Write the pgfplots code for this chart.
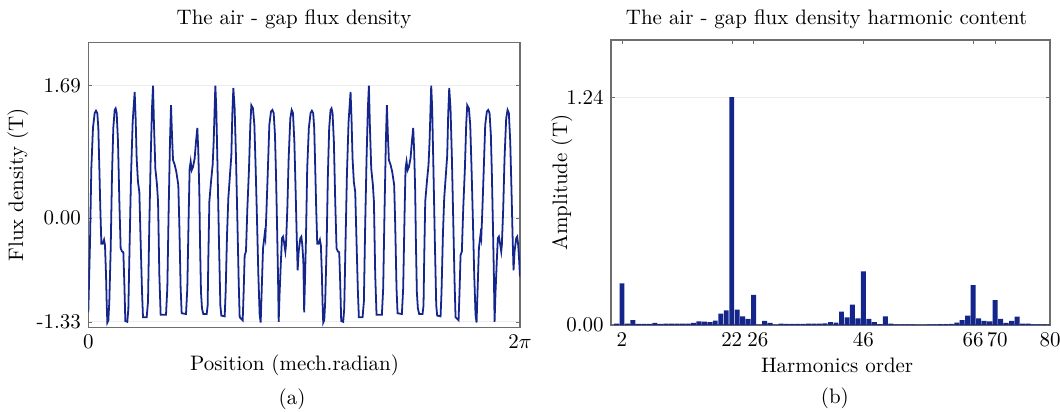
\documentclass[border=0pt]{standalone}
\usepackage{pgfplots}
\pgfplotsset{compat=1.18}
\usepackage{pgfplotstable}
\definecolor{fluxblue}{HTML}{14258C}
\definecolor{framegray}{HTML}{6E6E6E}

\pgfplotstableread{
x y
0.000 -1.21
0.025 -0.31
0.044 0.63
0.068 1.15
0.093 1.34
0.112 1.37
0.131 1.34
0.146 1.15
0.161 0.63
0.175 0.12
0.190 -0.33
0.209 -0.33
0.229 -0.28
0.243 -0.35
0.258 -0.73
0.267 -1.07
0.277 -1.34
0.292 -1.31
0.306 -1.07
0.326 -0.39
0.345 0.55
0.364 1.15
0.384 1.38
0.398 1.40
0.413 1.34
0.432 0.98
0.452 0.21
0.471 -0.39
0.491 -0.43
0.510 -0.44
0.524 -0.82
0.539 -1.32
0.568 -1.33
0.583 -1.16
0.602 -0.31
0.622 0.55
0.646 1.23
0.675 1.61
0.689 1.27
0.704 0.76
0.723 0.46
0.743 0.33
0.762 -0.31
0.782 -0.95
0.796 -1.27
0.850 -1.27
0.869 -1.07
0.888 -0.09
0.908 0.76
0.927 1.40
0.942 1.69
0.956 1.19
0.976 0.63
1.000 0.42
1.015 0.21
1.034 -0.73
1.053 -1.24
1.131 -1.24
1.150 -0.90
1.170 0.12
1.189 0.98
1.204 1.44
1.218 1.06
1.233 0.74
1.257 0.68
1.281 0.59
1.310 0.42
1.325 -0.09
1.344 -0.90
1.359 -1.22
1.422 -1.23
1.441 -0.90
1.461 0.04
1.475 0.63
1.490 0.72
1.505 0.61
1.524 0.65
1.548 0.76
1.568 0.98
1.587 1.15
1.601 0.85
1.616 0.33
1.626 -0.31
1.640 -0.95
1.655 -1.16
1.674 -1.23
1.723 -1.23
1.737 -1.12
1.747 -0.52
1.762 0.21
1.786 0.46
1.810 0.68
1.825 0.98
1.839 1.40
1.849 1.69
1.863 1.40
1.883 0.55
1.902 -0.31
1.922 -1.12
1.936 -1.25
1.985 -1.26
1.999 -0.95
2.019 -0.22
2.038 0.25
2.062 0.55
2.082 0.80
2.096 1.32
2.111 1.66
2.130 1.40
2.150 0.76
2.169 -0.01
2.189 -0.82
2.203 -1.27
2.247 -1.31
2.261 -0.95
2.276 -0.48
2.295 -0.43
2.315 0.12
2.339 0.63
2.358 1.19
2.373 1.44
2.397 1.40
2.417 1.19
2.436 0.63
2.455 -0.01
2.475 -0.73
2.494 -1.24
2.509 -1.34
2.523 -0.95
2.543 -0.39
2.567 -0.21
2.577 -0.26
2.591 0.04
2.611 0.55
2.635 1.19
2.659 1.36
2.679 1.38
2.698 1.34
2.717 1.06
2.732 0.55
2.747 -0.09
2.761 -0.73
2.771 -1.33
2.785 -0.95
2.805 -0.52
2.819 -0.26
2.834 -0.24
2.848 -0.31
2.868 -0.43
2.877 -0.35
2.897 0.12
2.916 0.76
2.940 1.27
2.960 1.38
2.979 1.34
2.999 0.98
3.018 0.33
3.033 -0.22
3.047 -0.67
3.062 -0.43
3.086 -0.26
3.101 -0.24
3.115 -0.35
3.130 -0.56
3.142 -1.21
3.167 -0.31
3.186 0.63
3.210 1.15
3.235 1.34
3.254 1.37
3.273 1.34
3.288 1.15
3.303 0.63
3.317 0.12
3.332 -0.33
3.351 -0.33
3.371 -0.28
3.385 -0.35
3.400 -0.73
3.409 -1.07
3.419 -1.34
3.434 -1.31
3.448 -1.07
3.468 -0.39
3.487 0.55
3.506 1.15
3.526 1.38
3.540 1.40
3.555 1.34
3.574 0.98
3.594 0.21
3.613 -0.39
3.633 -0.43
3.652 -0.44
3.666 -0.82
3.681 -1.32
3.710 -1.33
3.725 -1.16
3.744 -0.31
3.764 0.55
3.788 1.23
3.817 1.61
3.831 1.27
3.846 0.76
3.865 0.46
3.885 0.33
3.904 -0.31
3.924 -0.95
3.938 -1.27
3.992 -1.27
4.011 -1.07
4.030 -0.09
4.050 0.76
4.069 1.40
4.084 1.69
4.098 1.19
4.118 0.63
4.142 0.42
4.157 0.21
4.176 -0.73
4.195 -1.24
4.273 -1.24
4.292 -0.90
4.312 0.12
4.331 0.98
4.346 1.44
4.360 1.06
4.375 0.74
4.399 0.68
4.423 0.59
4.452 0.42
4.467 -0.09
4.486 -0.90
4.501 -1.22
4.564 -1.23
4.583 -0.90
4.603 0.04
4.617 0.63
4.632 0.72
4.647 0.61
4.666 0.65
4.690 0.76
4.710 0.98
4.729 1.15
4.743 0.85
4.758 0.33
4.768 -0.31
4.782 -0.95
4.797 -1.16
4.816 -1.23
4.865 -1.23
4.879 -1.12
4.889 -0.52
4.904 0.21
4.928 0.46
4.952 0.68
4.967 0.98
4.981 1.40
4.991 1.69
5.005 1.40
5.025 0.55
5.044 -0.31
5.064 -1.12
5.078 -1.25
5.127 -1.26
5.141 -0.95
5.161 -0.22
5.180 0.25
5.204 0.55
5.224 0.80
5.238 1.32
5.253 1.66
5.272 1.40
5.292 0.76
5.311 -0.01
5.331 -0.82
5.345 -1.27
5.389 -1.31
5.403 -0.95
5.418 -0.48
5.437 -0.43
5.457 0.12
5.481 0.63
5.500 1.19
5.515 1.44
5.539 1.40
5.559 1.19
5.578 0.63
5.597 -0.01
5.617 -0.73
5.636 -1.24
5.651 -1.34
5.665 -0.95
5.685 -0.39
5.709 -0.21
5.719 -0.26
5.733 0.04
5.753 0.55
5.777 1.19
5.801 1.36
5.821 1.38
5.840 1.34
5.859 1.06
5.874 0.55
5.889 -0.09
5.903 -0.73
5.913 -1.33
5.927 -0.95
5.947 -0.52
5.961 -0.26
5.976 -0.24
5.990 -0.31
6.010 -0.43
6.019 -0.35
6.039 0.12
6.058 0.76
6.082 1.27
6.102 1.38
6.121 1.34
6.141 0.98
6.160 0.33
6.175 -0.22
6.189 -0.67
6.204 -0.43
6.228 -0.26
6.243 -0.24
6.257 -0.35
6.272 -0.56
6.283 -0.75
}\fluxdata

\pgfplotstableread{
n a
1 0.007
2 0.226
3 0.007
4 0.026
5 0.006
6 0.006
7 0.006
8 0.012
9 0.006
10 0.007
11 0.008
12 0.008
13 0.008
14 0.008
15 0.012
16 0.020
17 0.018
18 0.015
19 0.024
20 0.062
21 0.080
22 1.240
23 0.084
24 0.047
25 0.033
26 0.164
27 0.002
28 0.022
29 0.011
30 0.002
31 0.007
32 0.006
33 0.006
34 0.006
35 0.006
36 0.007
37 0.007
38 0.007
39 0.009
40 0.016
41 0.013
42 0.073
43 0.042
44 0.111
45 0.036
46 0.292
47 0.033
48 0.015
49 0.005
50 0.047
51 0.007
52 0.004
53 0.004
54 0.004
55 0.004
56 0.002
57 0.002
58 0.004
59 0.004
60 0.005
61 0.005
62 0.006
63 0.013
64 0.027
65 0.051
66 0.217
67 0.036
68 0.022
69 0.020
70 0.135
71 0.033
72 0.011
73 0.022
74 0.046
75 0.007
76 0.007
77 0.004
78 0.004
79 0.004
80 0.003
}\harmdata

\begin{document}
\begin{tikzpicture}
\path[use as bounding box] (0,0) rectangle (505.97pt,196.18pt);
\begin{axis}[
  at={(42.15pt,39.95pt)}, anchor=south west,
  width=206.06pt, height=135.85pt, scale only axis,
  xmin=0, xmax=6.28319, ymin=-1.40, ymax=2.24,
  xtick={0,6.28319}, xticklabels={$0$,$2\pi$},
  ytick={-1.33,0,1.69}, yticklabels={-1.33,0.00,1.69},
  ymajorgrids, grid style={black!7, line width=0.4pt},
  axis line style={framegray, line width=0.5pt}, tick style={framegray},
  tick align=inside, major tick length=2pt,
  title={The air - gap flux density},
  every axis title/.style={at={(axis description cs:0.4765,1)}, anchor=base, yshift=8.45pt},
  xlabel={Position (mech.radian)},
  every axis x label/.style={at={(axis description cs:0.4777,-0.1535)}, anchor=base},
  ylabel={Flux density (T)},
  every axis y label/.style={at={(axis description cs:-0.163,0.5)}, rotate=90, anchor=center},
  clip mode=individual,
]
\addplot[fluxblue, line width=0.85pt] table[x=x,y=y]{\fluxdata};
\node[anchor=base] at (axis description cs:0.472,-0.2695) {(a)};
\end{axis}
\begin{axis}[
  at={(291.65pt,41.05pt)}, anchor=south west,
  width=209.55pt, height=136.04pt, scale only axis,
  xmin=0, xmax=80, ymin=0, ymax=1.55,
  xtick={2,22,26,46,66,70,80},
  xticklabels={2,{22\hspace{4pt}},{\hspace{4pt}26},46,{66\hspace{3pt}},{\hspace{2pt}70},{80\hspace{2pt}}},
  ytick={0,1.24}, yticklabels={0.00,1.24},
  ymajorgrids, grid style={black!7, line width=0.4pt},
  axis line style={framegray, line width=0.5pt}, tick style={framegray},
  tick align=inside, major tick length=2pt,
  title={The air - gap flux density harmonic content},
  every axis title/.style={at={(axis description cs:0.491,1)}, anchor=base, yshift=7.16pt},
  xlabel={Harmonics order},
  every axis x label/.style={at={(axis description cs:0.515,-0.165)}, anchor=base},
  ylabel={Amplitude (T)},
  every axis y label/.style={at={(axis description cs:-0.112,0.5)}, rotate=90, anchor=center},
  clip mode=individual,
]
\addplot[ybar, bar width=0.9, fill=fluxblue, draw=none] table[x=n,y=a]{\harmdata};
\node[anchor=base] at (axis description cs:0.51,-0.277) {(b)};
\end{axis}
\end{tikzpicture}
\end{document}
